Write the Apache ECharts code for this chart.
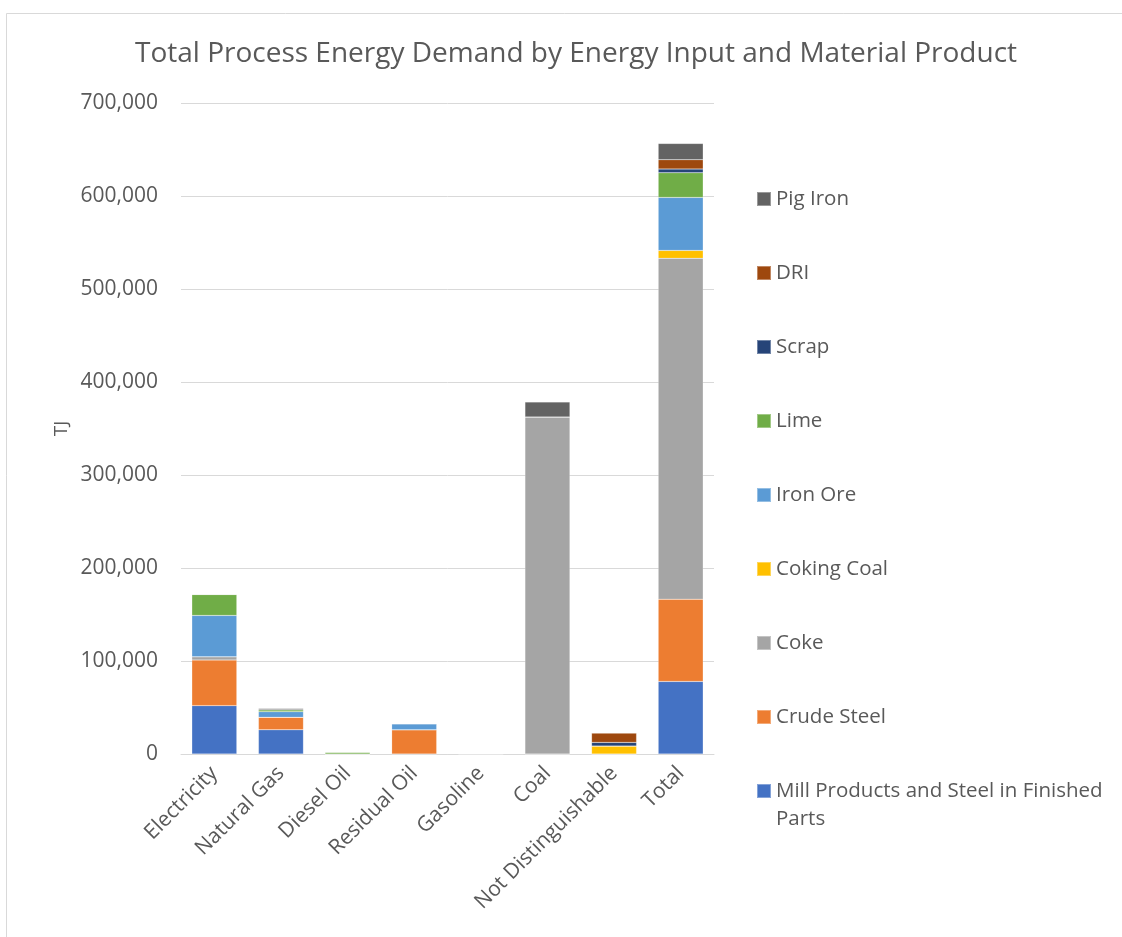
<!DOCTYPE html>
<html>
<head>
<meta charset="utf-8">
<script src="https://cdn.jsdelivr.net/npm/echarts@6/dist/echarts.min.js"></script>
<style>
  html, body { margin: 0; padding: 0; background: #ffffff; }
  #chart { width: 1122px; height: 937px; }
</style>
</head>
<body>
<div id="chart"></div>
<script>
// Energy inputs along the x axis
const categories = ['Electricity', 'Natural Gas', 'Diesel Oil', 'Residual Oil', 'Gasoline', 'Coal', 'Not Distinguishable', 'Total'];

// Process energy demand (TJ) per material product, one value per energy input
const millProducts = [52000, 26000, 0, 0, 0, 0, 0, 78000];
const crudeSteel   = [49000, 13500, 0, 26000, 0, 0, 0, 88500];
const coke         = [3500, 0, 0, 0, 500, 362500, 0, 366500];
const cokingCoal   = [0, 0, 0, 0, 0, 0, 8500, 8500];
const ironOre      = [44500, 6000, 0, 6500, 0, 0, 0, 57000];
const lime         = [22500, 2000, 2000, 0, 0, 0, 0, 26500];
const scrap        = [0, 0, 0, 0, 0, 0, 4000, 4000];
const dri          = [0, 0, 0, 0, 0, 0, 10000, 10000];
const pigIron      = [0, 1500, 0, 0, 0, 16000, 0, 17500];

// Y axis ticks
const yTicks = [0, 100000, 200000, 300000, 400000, 500000, 600000, 700000];

const MILL_NAME = 'Mill Products and Steel in Finished Parts';

// Stack order, bottom to top
const stack = [
  { name: MILL_NAME,     data: millProducts, color: '#4472C4' },
  { name: 'Crude Steel', data: crudeSteel,   color: '#ED7D31' },
  { name: 'Coke',        data: coke,         color: '#A5A5A5' },
  { name: 'Coking Coal', data: cokingCoal,   color: '#FFC000' },
  { name: 'Iron Ore',    data: ironOre,      color: '#5B9BD5' },
  { name: 'Lime',        data: lime,         color: '#70AD47' },
  { name: 'Scrap',       data: scrap,        color: '#264478' },
  { name: 'DRI',         data: dri,          color: '#9E480E' },
  { name: 'Pig Iron',    data: pigIron,      color: '#636363' }
];

const FONT = '"Open Sans", "DejaVu Sans", sans-serif';
const TEXT = '#595959';
const GRID = '#d9d9d9';

const chart = echarts.init(document.getElementById('chart'), null, { renderer: 'canvas' });

const legendCommon = {
  orient: 'vertical',
  left: 756,
  padding: 0,
  itemWidth: 14,
  itemHeight: 14,
  itemGap: 46,
  icon: 'rect',
  textStyle: { fontFamily: FONT, fontSize: 20.5, color: TEXT, lineHeight: 28 }
};

// Legend lists the top of the stack first; the wrapped last entry gets its own
// block so its marker lines up with the first text line.
const upperNames = stack.slice(1).reverse().map(s => s.name);

chart.setOption({
  animation: false,
  backgroundColor: '#ffffff',
  title: {
    text: 'Total Process Energy Demand by Energy Input and Material Product',
    left: 135,
    top: 40,
    padding: 0,
    textStyle: { fontFamily: FONT, fontSize: 28, fontWeight: 'normal', color: TEXT }
  },
  graphic: [{
    type: 'rect',
    left: 4, top: 11,
    shape: { width: 1140, height: 960 },
    style: { fill: 'none', stroke: GRID, lineWidth: 1 },
    silent: true
  }],
  legend: [
    Object.assign({}, legendCommon, { top: 185, data: upperNames }),
    Object.assign({}, legendCommon, {
      top: 749,
      data: [MILL_NAME],
      formatter: () => ' \nMill Products and Steel in Finished\nParts'
    })
  ],
  grid: { left: 181, right: 408, top: 103, bottom: 183, containLabel: false },
  xAxis: {
    type: 'category',
    data: categories,
    axisLine: { lineStyle: { color: GRID, width: 1 } },
    axisTick: { show: false },
    axisLabel: {
      interval: 0,
      rotate: 45,
      margin: 16,
      fontFamily: FONT,
      fontSize: 21,
      color: TEXT
    }
  },
  yAxis: {
    type: 'value',
    min: yTicks[0],
    max: yTicks[yTicks.length - 1],
    interval: yTicks[1] - yTicks[0],
    name: 'TJ',
    nameLocation: 'middle',
    nameRotate: 90,
    nameGap: 110,
    nameTextStyle: { fontFamily: FONT, fontSize: 19, color: TEXT },
    axisLine: { show: false },
    axisTick: { show: false },
    splitLine: { lineStyle: { color: GRID, width: 1 } },
    axisLabel: {
      margin: 23,
      fontFamily: FONT,
      fontSize: 21,
      color: TEXT,
      formatter: v => v.toLocaleString('en-US')
    }
  },
  series: stack.map(s => ({
    name: s.name,
    type: 'bar',
    stack: 'demand',
    barWidth: 45,
    data: s.data,
    itemStyle: { color: s.color, borderColor: 'rgba(255,255,255,0.35)', borderWidth: 0.5 },
    emphasis: { disabled: true }
  }))
});
</script>
</body>
</html>
